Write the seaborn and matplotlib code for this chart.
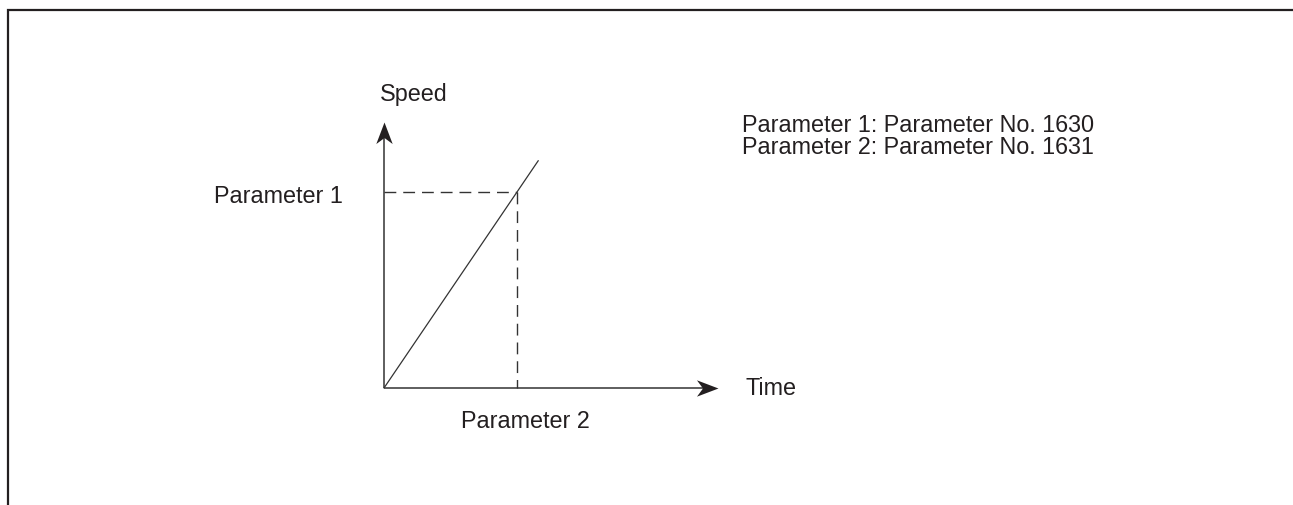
import numpy as np
import pandas as pd
import matplotlib
matplotlib.use("Agg")
import matplotlib.pyplot as plt
from matplotlib.path import Path
from matplotlib.markers import MarkerStyle
import seaborn as sns

# ---- data (diagram units: Parameter 2 = 1 on time axis, Parameter 1 = 1 on speed axis)
time_vals = [0.0, 1.0, 1.16]          # acceleration line (time)
speed_vals = [0.0, 1.0, 1.16]         # acceleration line (speed)
param2_time = 1.0
param1_speed = 1.0
time_axis_end = 2.51
speed_axis_end = 1.355

axis_labels = ["Speed", "Time"]
ref_labels = ["Parameter 1", "Parameter 2"]
note_lines = ["Parameter 1: Parameter No. 1630", "Parameter 2: Parameter No. 1631"]

# ---- style
sns.set_theme(style="white")
plt.rcParams["font.family"] = ["Liberation Sans", "DejaVu Sans"]
FS = 16.8
TXT = "#231f20"
LINE = "#333333"

W, H = 1293, 506
fig = plt.figure(figsize=(W / 100, H / 100), dpi=100)

# overlay axes in pixel coordinates for frame + text
ax = fig.add_axes([0, 0, 1, 1])
ax.set_xlim(0, W)
ax.set_ylim(H, 0)
ax.axis("off")
ax.plot([8, 8, W + 2], [H + 2, 11, 11], color=TXT, lw=1.6, clip_on=False,
        solid_joinstyle="miter")

# diagram axes: origin at pixel (384, 389); 133 px per time unit, 196 px per speed unit
px_x, px_y = 133.0, 196.0
ox, oy = 384.0, 389.0
x0, x1 = -0.5, 3.0
y0, y1 = -0.5, 1.6
left = ox + x0 * px_x
bottom_from_top = oy - y0 * px_y
dax = fig.add_axes([left / W, (H - bottom_from_top) / H,
                    (x1 - x0) * px_x / W, (y1 - y0) * px_y / H])
dax.patch.set_alpha(0)

# acceleration line
df = pd.DataFrame({"time": time_vals, "speed": speed_vals})
sns.lineplot(data=df, x="time", y="speed", ax=dax, color=LINE, lw=0.9,
             estimator=None, sort=False)
dax.set_xlim(x0, x1)
dax.set_ylim(y0, y1)
dax.axis("off")

# axes lines
dax.plot([0, time_axis_end - 0.05], [0, 0], color=LINE, lw=1.1, solid_capstyle="butt")
dax.plot([0, 0], [0, speed_axis_end - 0.05], color=LINE, lw=1.1, solid_capstyle="butt")

# arrow heads as custom markers (tip at marker origin)
head_r = Path([(0, 0), (-1, 0.38), (-0.72, 0), (-1, -0.38), (0, 0)],
              [Path.MOVETO, Path.LINETO, Path.LINETO, Path.LINETO, Path.CLOSEPOLY])
head_u = Path([(0, 0), (0.38, -1), (0, -0.72), (-0.38, -1), (0, 0)],
              [Path.MOVETO, Path.LINETO, Path.LINETO, Path.LINETO, Path.CLOSEPOLY])
dax.plot([time_axis_end], [0], marker=MarkerStyle(head_r), ms=31, color=TXT,
         mew=0, linestyle="none", clip_on=False)
dax.plot([0], [speed_axis_end], marker=MarkerStyle(head_u), ms=31, color=TXT,
         mew=0, linestyle="none", clip_on=False)

# dashed reference lines
dax.plot([0, param2_time], [param1_speed, param1_speed], color=LINE, lw=1.0,
         dashes=(8.5, 5.0))
dax.plot([param2_time, param2_time], [param1_speed, 0], color=LINE, lw=1.0,
         dashes=(8.5, 5.0))

# texts (pixel positions, baseline)
ax.text(380, 100.5, axis_labels[0], fontsize=FS, color=TXT, va="baseline", ha="left")
ax.text(746, 395, axis_labels[1], fontsize=FS, color=TXT, va="baseline", ha="left")
ax.text(343, 203, ref_labels[0], fontsize=FS, color=TXT, va="baseline", ha="right")
ax.text(525, 428, ref_labels[1], fontsize=FS, color=TXT, va="baseline", ha="center")
ax.text(741.5, 153.5, "\n".join(note_lines), fontsize=FS, color=TXT,
        va="baseline", ha="left", linespacing=0.92)

fig.savefig("out.png", dpi=100)
